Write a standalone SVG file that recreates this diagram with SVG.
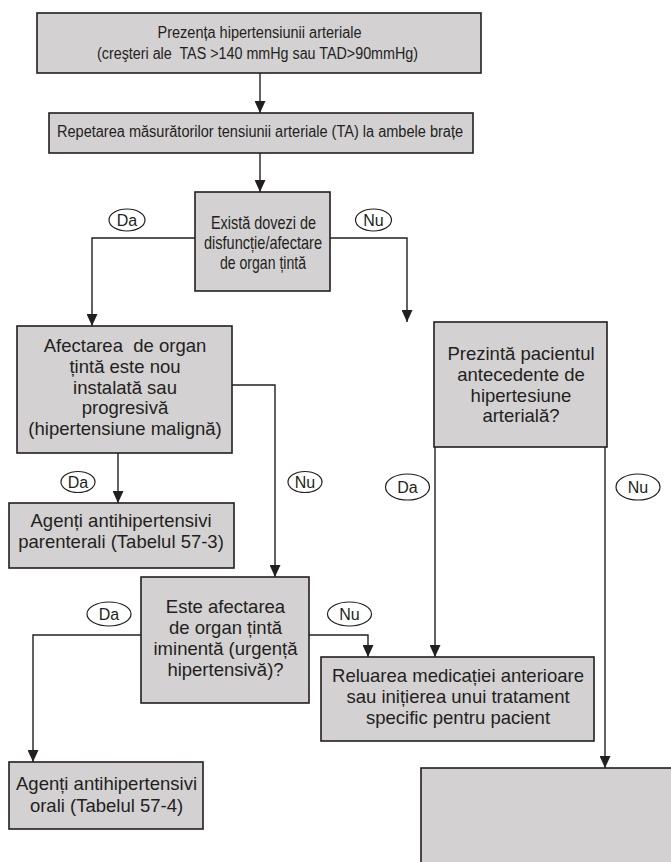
<svg xmlns="http://www.w3.org/2000/svg" width="671" height="862" viewBox="0 0 671 862">
  <style>
    .box { fill: #d3d1d2; stroke: #231f20; stroke-width: 1.6; }
    .conn { fill: none; stroke: #231f20; stroke-width: 1.4; }
    .tag { fill: #ffffff; stroke: #231f20; stroke-width: 1.2; }
    text { font-family: "Liberation Sans", Arial, sans-serif; fill: #231f20; text-anchor: middle; white-space: pre; }
    .sm { font-size: 16px; }
    .lg { font-size: 18.5px; }
    .lbl { font-size: 16px; }
  </style>
  <defs>
    <marker id="arrow" markerUnits="userSpaceOnUse" markerWidth="12" markerHeight="11" refX="12" refY="5.5" orient="auto">
      <path d="M0,0 L12,5.5 L0,11 z" fill="#231f20"/>
    </marker>
  </defs>

  <!-- connectors -->
  <g id="connectors">
    <path class="conn" d="M260,73 V113" marker-end="url(#arrow)"/>
    <path class="conn" d="M260,153 V192" marker-end="url(#arrow)"/>
    <path class="conn" d="M195,238 H92 V326" marker-end="url(#arrow)"/>
    <path class="conn" d="M330,238 H407 V322" marker-end="url(#arrow)"/>
    <path class="conn" d="M118,453 V503" marker-end="url(#arrow)"/>
    <path class="conn" d="M232,385 H275 V577" marker-end="url(#arrow)"/>
    <path class="conn" d="M141,635 H33 V762" marker-end="url(#arrow)"/>
    <path class="conn" d="M309,635 H368 V657" marker-end="url(#arrow)"/>
    <path class="conn" d="M435,447 V657" marker-end="url(#arrow)"/>
    <path class="conn" d="M605,447 V768" marker-end="url(#arrow)"/>
  </g>

  <!-- branch labels -->
  <g id="labels">
    <g id="da1"><ellipse class="tag" cx="127" cy="220" rx="18" ry="11"/><text class="lbl" x="127" y="226">Da</text></g>
    <g id="nu1"><ellipse class="tag" cx="373.5" cy="220" rx="18" ry="11"/><text class="lbl" x="373.5" y="226">Nu</text></g>
    <g id="da2"><ellipse class="tag" cx="78" cy="482" rx="17" ry="10.5"/><text class="lbl" x="78" y="488">Da</text></g>
    <g id="nu2"><ellipse class="tag" cx="305" cy="482" rx="17" ry="10.5"/><text class="lbl" x="305" y="488">Nu</text></g>
    <g id="da3"><ellipse class="tag" cx="407.5" cy="487" rx="22" ry="13"/><text class="lbl" x="407.5" y="493">Da</text></g>
    <g id="nu3"><ellipse class="tag" cx="638" cy="487" rx="22" ry="13"/><text class="lbl" x="638" y="493">Nu</text></g>
    <g id="da4"><ellipse class="tag" cx="109" cy="614" rx="22" ry="12"/><text class="lbl" x="109" y="620">Da</text></g>
    <g id="nu4"><ellipse class="tag" cx="349.5" cy="614" rx="22" ry="12"/><text class="lbl" x="349.5" y="620">Nu</text></g>
  </g>

  <g id="n-prezenta">
    <rect class="box" x="37" y="13" width="444" height="60"/>
    <text class="sm" x="259.5" y="38" textLength="204" lengthAdjust="spacingAndGlyphs">Prezența hipertensiunii arteriale</text>
    <text class="sm" x="257.5" y="59" textLength="321" lengthAdjust="spacingAndGlyphs">(creşteri ale  TAS &gt;140 mmHg sau TAD&gt;90mmHg)</text>
  </g>

  <g id="n-repetarea">
    <rect class="box" x="49" y="113" width="424" height="40"/>
    <text class="sm" x="260" y="137" textLength="406" lengthAdjust="spacingAndGlyphs">Repetarea măsurătorilor tensiunii arteriale (TA) la ambele brațe</text>
  </g>

  <g id="n-dovezi">
    <rect class="box" x="195" y="192" width="135" height="99"/>
    <text class="lg" x="263.5" y="229" textLength="105" lengthAdjust="spacingAndGlyphs">Există dovezi de</text>
    <text class="lg" x="263" y="249" textLength="118" lengthAdjust="spacingAndGlyphs">disfuncție/afectare</text>
    <text class="lg" x="263" y="269" textLength="86" lengthAdjust="spacingAndGlyphs">de organ țintă</text>
  </g>

  <g id="n-afectarea">
    <rect class="box" x="17" y="326" width="215" height="127"/>
    <text class="lg" x="125" y="352">Afectarea  de organ</text>
    <text class="lg" x="125" y="373">țintă este nou</text>
    <text class="lg" x="125" y="394">instalată sau</text>
    <text class="lg" x="125" y="414">progresivă</text>
    <text class="lg" x="125" y="435">(hipertensiune malignă)</text>
  </g>

  <g id="n-parenterali">
    <rect class="box" x="9" y="503" width="225" height="65"/>
    <text class="lg" x="121" y="527">Agenți antihipertensivi</text>
    <text class="lg" x="121" y="548">parenterali (Tabelul 57-3)</text>
  </g>

  <g id="n-antecedente">
    <rect class="box" x="434" y="322" width="173" height="125"/>
    <text class="lg" x="521" y="360">Prezintă pacientul</text>
    <text class="lg" x="521" y="381">antecedente de</text>
    <text class="lg" x="521" y="402">hipertesiune</text>
    <text class="lg" x="521" y="422">arterială?</text>
  </g>

  <g id="n-iminenta">
    <rect class="box" x="141" y="577" width="168" height="126"/>
    <text class="lg" x="225.5" y="613">Este afectarea</text>
    <text class="lg" x="225.5" y="634">de organ țintă</text>
    <text class="lg" x="225.5" y="655">iminentă (urgență</text>
    <text class="lg" x="225.5" y="676">hipertensivă)?</text>
  </g>

  <g id="n-reluarea">
    <rect class="box" x="321" y="657" width="273" height="84"/>
    <text class="lg" x="458" y="682">Reluarea medicației anterioare</text>
    <text class="lg" x="458" y="703">sau inițierea unui tratament</text>
    <text class="lg" x="458" y="724">specific pentru pacient</text>
  </g>

  <g id="n-orali">
    <rect class="box" x="9" y="762" width="194" height="67"/>
    <text class="lg" x="106.5" y="790">Agenți antihipertensivi</text>
    <text class="lg" x="106.5" y="812">orali (Tabelul 57-4)</text>
  </g>

  <g id="n-final">
    <rect class="box" x="421" y="768" width="270" height="110"/>
  </g>
</svg>
